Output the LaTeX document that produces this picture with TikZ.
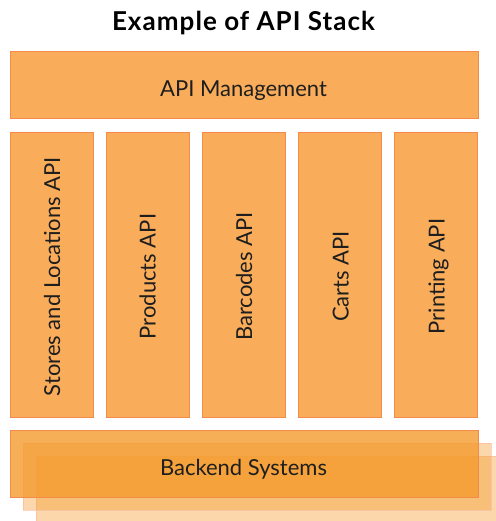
\documentclass[tikz,border=0pt]{standalone}
\usepackage{fontspec}
\setmainfont{Lato}
\definecolor{boxfill}{HTML}{F9AD5A}
\definecolor{boxline}{HTML}{F58B4B}
\definecolor{deep}{HTML}{F49B2D}
\definecolor{paleline}{HTML}{FAB9A0}
\definecolor{labeltext}{HTML}{1E1E1E}
\begin{document}
\begin{tikzpicture}[x=1pt,y=-1pt,
  panel/.style={draw=boxline, line width=0.9pt, fill=boxfill, inner sep=0pt, anchor=north west},
  column/.style={panel, minimum width=83pt, minimum height=284.5pt},
  ghost/.style={fill=deep, fill opacity=0.4, draw=paleline, draw opacity=0.6, line width=0.9pt, inner sep=0pt, anchor=north west, minimum width=468pt, minimum height=67pt},
  front/.style={fill=deep, fill opacity=0.8, draw=boxline, line width=0.9pt, inner sep=0pt, anchor=north west, minimum width=468pt, minimum height=67pt},
  lbl/.style={font=\fontsize{22}{26}\selectfont, text=labeltext, anchor=base, inner sep=0pt},
  vlbl/.style={lbl, rotate=90},
  ttl/.style={font=\fontsize{26}{31}\selectfont\bfseries\addfontfeature{LetterSpace=4}, text=black, anchor=base, inner sep=0pt}]
\useasboundingbox (0,0) rectangle (495,521);
\node[ttl] (title) at (243.5,31) {Example of API Stack};
\node[panel, minimum width=468pt, minimum height=66.5pt] (mgmt) at (9.5,51.5) {};
\node[lbl] (mgmtlbl) at (243.5,97) {API Management};
\node[column] (c1) at (9.5,132) {};
\node[column] (c2) at (105.5,132) {};
\node[column] (c3) at (202,132) {};
\node[column] (c4) at (298.3,132) {};
\node[column] (c5) at (394.3,132) {};
\node[vlbl] (l1) at (60,276.5) {Stores and Locations API};
\node[vlbl] (l2) at (155.5,276.5) {Products API};
\node[vlbl] (l3) at (252,276.5) {Barcodes API};
\node[vlbl] (l4) at (348.5,276.5) {Carts API};
\node[vlbl] (l5) at (444.5,276.5) {Printing API};
\node[ghost] (b3) at (36,456) {};
\node[ghost] (b2) at (23,443) {};
\node[front] (b1) at (9.5,430) {};
\node[lbl] (blbl) at (243.5,475) {Backend Systems};
\end{tikzpicture}
\end{document}
